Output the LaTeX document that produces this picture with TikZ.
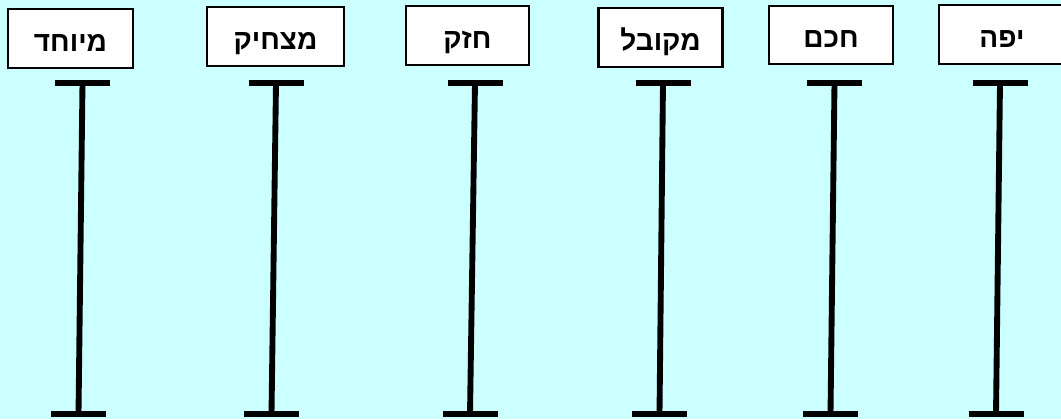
\documentclass[tikz,border=0pt]{standalone}
\usepackage{fontspec}
\TeXXeTstate=1
\newfontfamily\hebfont[Script=Hebrew]{Liberation Sans Bold}
\definecolor{skybg}{HTML}{CCFFFF}
\tikzset{
  label box/.style={draw=black, line width=1.6pt, fill=white, inner sep=0pt,
    minimum height=44pt, text height=19pt, text depth=0pt,
    font=\hebfont\fontsize{21}{24}\selectfont},
  beam/.style={line width=4.4pt, line cap=butt, black},
}
\begin{document}
\begin{tikzpicture}[x=0.75pt, y=-0.75pt]
  \useasboundingbox (0,0) rectangle (1061,419);
  \fill[skybg] (0,0) rectangle (1061,419);
  \clip (0,0) rectangle (1061,419);

  % word boxes
  \node[label box, minimum width=94pt] (b1) at (70.5,38.5) {\beginR מיוחד\endR};
  \node[label box, minimum width=103pt] (b2) at (275.5,36.5) {\beginR מצחיק\endR};
  \node[label box, minimum width=92pt] (b3) at (467.5,35.5) {\beginR חזק\endR};
  \node[label box, minimum width=93pt] (b4) at (660.5,37.5) {\beginR מקובל\endR};
  \node[label box, minimum width=93pt] (b5) at (831,35) {\beginR חכם\endR};
  \node[label box, minimum width=95pt] (b6) at (1002,34.5) {\beginR יפה\endR};

  % I-beams: top centre, bottom centre
  \foreach \i/\xt/\xb in {1/82.5/78.5, 2/276/271.5, 3/475/470, 4/663/659.5, 5/834.5/830.5, 6/1000/996}{
    \coordinate (t\i) at (\xt,83);
    \coordinate (u\i) at (\xb,414);
    \draw[beam] (t\i) -- (u\i);
    \draw[beam] ([xshift=-27.5*0.75pt]t\i) -- ([xshift=27.5*0.75pt]t\i);
    \draw[beam] ([xshift=-27.5*0.75pt]u\i) -- ([xshift=27.5*0.75pt]u\i);
  }
\end{tikzpicture}
\end{document}
